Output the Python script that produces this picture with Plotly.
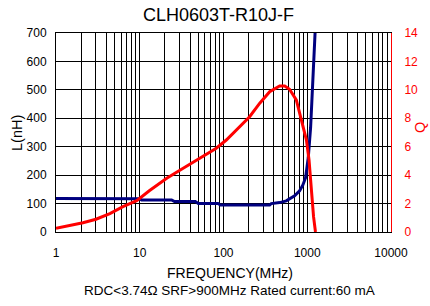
import plotly.graph_objects as go

# ---- data ----
q_freq = [1, 1.5, 2.1, 3.0, 4.4, 6.3, 9.2, 13, 21, 33, 52, 82, 108, 143, 205,
          271, 356, 468, 538, 614, 740, 850, 978, 1050, 1119, 1189, 1254]
q_vals = [0.26, 0.45, 0.65, 0.9, 1.3, 1.78, 2.2, 2.9, 3.78, 4.48, 5.19, 5.89, 6.47, 7.18, 8.11,
          9.06, 9.87, 10.27, 10.27, 10.04, 9.29, 7.88, 6.47, 5.07, 2.72, 1.08, 0.0]

l_freq = [1, 10, 10.5, 24, 26, 46, 50, 86, 92, 205, 356, 372, 468, 562, 615, 706,
          810, 887, 955, 991, 1028, 1065, 1096, 1135, 1167, 1199, 1240]
l_vals = [117.6, 117, 113, 113, 107, 107, 100, 100, 95, 95, 95.4, 100, 103.5, 109.5, 117.5, 127,
          144.5, 165.5, 191, 226, 261, 320, 366, 460, 541, 600, 700]

x_tickvals = [m * 10 ** d for d in range(4) for m in range(1, 10)] + [10000]
x_ticktext = [str(10 ** d) if m == 1 else "" for d in range(4) for m in range(1, 10)] + ["10000"]
y_ticks = [0, 100, 200, 300, 400, 500, 600, 700]
q_ticks = [0, 2, 4, 6, 8, 10, 12, 14]

title_text = "CLH0603T-R10J-F"
xtitle_text = "FREQUENCY(MHz)"
subtitle_text = "RDC<3.74\u03a9 SRF>900MHz Rated current:60 mA"

# ---- layout geometry ----
W, H = 430, 306
L_, R_, T_, B_ = 56, 391, 33, 232
PW, PH = R_ - L_, B_ - T_


def px(x):
    return (x - L_) / PW


def py(y):
    return (B_ - y) / PH


FONT = "Liberation Sans, Arial, sans-serif"

fig = go.Figure()
fig.add_trace(go.Scatter(x=l_freq, y=l_vals, mode="lines", yaxis="y",
                         line=dict(color="#00007f", width=3), showlegend=False))
fig.add_trace(go.Scatter(x=q_freq, y=q_vals, mode="lines", yaxis="y2",
                         line=dict(color="#ff0000", width=3), showlegend=False))

fig.update_layout(
    width=W, height=H,
    margin=dict(l=L_, r=W - R_, t=T_, b=H - B_, pad=0),
    paper_bgcolor="white", plot_bgcolor="white",
    font=dict(family=FONT, size=12, color="black"),
    xaxis=dict(type="log", range=[0, 4], tickvals=x_tickvals, ticktext=x_ticktext,
               showgrid=True, gridcolor="#000000", gridwidth=1,
               showline=True, linecolor="black", linewidth=1, mirror=True,
               ticks="", ticklabelstandoff=10, zeroline=False,
               tickfont=dict(size=12, color="black")),
    yaxis=dict(range=[0, 700], tickvals=y_ticks, showgrid=True, gridcolor="#000000",
               gridwidth=1, showline=True, linecolor="black", linewidth=1,
               ticks="", ticklabelstandoff=6, zeroline=False,
               tickfont=dict(size=12, color="black")),
    yaxis2=dict(range=[0, 14], tickvals=q_ticks, overlaying="y", side="right",
                showgrid=False, showline=True, linecolor="#ff0000", linewidth=1,
                ticks="", ticklabelstandoff=10, zeroline=False,
                tickfont=dict(size=12, color="#ff0000")),
    annotations=[
        dict(text=title_text, x=px(218.5), y=py(15), xref="paper", yref="paper",
             showarrow=False, xanchor="center", yanchor="middle",
             font=dict(size=18, color="black", family=FONT)),
        dict(text=xtitle_text, x=px(230), y=py(272.7), xref="paper", yref="paper",
             showarrow=False, xanchor="center", yanchor="middle",
             font=dict(size=14, color="black", family=FONT)),
        dict(text=subtitle_text, x=px(229), y=py(290.7), xref="paper", yref="paper",
             showarrow=False, xanchor="center", yanchor="middle",
             font=dict(size=13.5, color="black", family=FONT)),
        dict(text="L(nH)", x=px(17), y=py(133), xref="paper", yref="paper",
             showarrow=False, xanchor="center", yanchor="middle", textangle=-90,
             font=dict(size=14.5, color="black", family=FONT)),
        dict(text="Q", x=px(420), y=py(127), xref="paper", yref="paper",
             showarrow=False, xanchor="center", yanchor="middle", textangle=-90,
             font=dict(size=14.5, color="#ff0000", family=FONT)),
    ],
)

fig.write_html("out.html", post_script="document.body.style.margin='0px';",
               config={"displayModeBar": False})
